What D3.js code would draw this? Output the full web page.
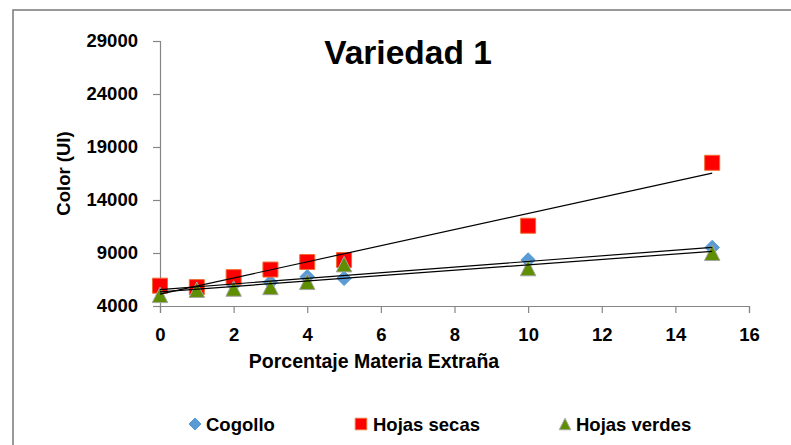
<!DOCTYPE html>
<html>
<head>
<meta charset="utf-8">
<script src="https://cdn.jsdelivr.net/npm/d3@7/dist/d3.min.js"></script>
<style>
  html, body { margin: 0; padding: 0; background: #ffffff; }
  svg { display: block; }
  text { font-family: "Liberation Sans", Arial, sans-serif; font-weight: bold; fill: #000; }
</style>
</head>
<body>
<svg id="chart" width="791" height="445"></svg>
<script>
// Porcentaje de materia extraña (%)
const porcentajes = [0, 1, 2, 3, 4, 5, 10, 15];

// Color (UI) por tipo de materia extraña
const cogollo      = [5700, 5850, 6000, 6230, 6760, 6610, 8340, 9520];
const hojasSecas   = [5915, 5780, 6720, 7440, 8150, 8340, 11570, 17510];
const hojasVerdes  = [5050, 5540, 5650, 5800, 6280, 7950, 7580, 9020];

const seriesNames  = ["Cogollo", "Hojas secas", "Hojas verdes"];
const xTicks = [0, 2, 4, 6, 8, 10, 12, 14, 16];
const yTicks = [4000, 9000, 14000, 19000, 24000, 29000];

const titulo = "Variedad 1";
const tituloX = "Porcentaje Materia Extraña";
const tituloY = "Color (UI)";

// marker shapes; "size" is the marker's full width in pixels
const diamond = { draw(ctx, s) { const r = s / 2; ctx.moveTo(0, -r); ctx.lineTo(r, 0); ctx.lineTo(0, r); ctx.lineTo(-r, 0); ctx.closePath(); } };
const square  = { draw(ctx, s) { const r = s / 2; ctx.rect(-r, -r, s, s); } };
const triangle = { draw(ctx, s) { const r = s / 2; ctx.moveTo(0, -r); ctx.lineTo(r, r); ctx.lineTo(-r, r); ctx.closePath(); } };

const series = [
  { name: seriesNames[0], values: cogollo,     symbol: diamond,  fill: "#5b9bd5", stroke: "#5b9bd5", size: 14.5, legendSize: 12 },
  { name: seriesNames[1], values: hojasSecas,  symbol: square,   fill: "#ff0000", stroke: "#f26b2f", size: 15,   legendSize: 11.5 },
  { name: seriesNames[2], values: hojasVerdes, symbol: triangle, fill: "#5f8f00", stroke: "#a6a6a6", size: 15.5, legendSize: 11.5 }
];

const svg = d3.select("#chart");

// chart frame
svg.append("rect")
  .attr("x", 13).attr("y", 10)
  .attr("width", 800).attr("height", 460)
  .attr("fill", "none").attr("stroke", "#808080").attr("stroke-width", 1.6);

const x = d3.scaleLinear().domain([0, 16]).range([160, 749]);
const y = d3.scaleLinear().domain([4000, 29000]).range([306, 41]);

const axisColor = "#868686";
const fontSize = "18.5px";

// Y axis
const gy = svg.append("g").attr("transform", `translate(${x(0)},0)`)
  .call(d3.axisLeft(y).tickValues(yTicks).tickSize(7).tickPadding(15).tickFormat(d3.format("d")));
gy.select(".domain").attr("stroke", axisColor).attr("stroke-width", 1.2);
gy.selectAll(".tick line").attr("stroke", axisColor).attr("stroke-width", 1.2);
gy.selectAll(".tick text").style("font-size", fontSize).attr("font-family", null);

// X axis
const gx = svg.append("g").attr("transform", `translate(0,${y(4000)})`)
  .call(d3.axisBottom(x).tickValues(xTicks).tickSize(7).tickPadding(15).tickFormat(d3.format("d")));
gx.select(".domain").attr("stroke", axisColor).attr("stroke-width", 1.2);
gx.selectAll(".tick line").attr("stroke", axisColor).attr("stroke-width", 1.2);
gx.selectAll(".tick text").style("font-size", fontSize).attr("font-family", null);

// titles
svg.append("text").attr("x", 408).attr("y", 63.5).attr("text-anchor", "middle")
  .style("font-size", "33.5px").text(titulo);
svg.append("text").attr("x", 374).attr("y", 367.5).attr("text-anchor", "middle")
  .style("font-size", "19.5px").text(tituloX);
svg.append("text").attr("transform", `translate(69.5,${(y(4000) + y(29000)) / 2}) rotate(-90)`)
  .attr("text-anchor", "middle").style("font-size", fontSize).text(tituloY);

// markers
series.forEach(s => {
  svg.append("g").selectAll("path")
    .data(porcentajes.map((p, i) => [p, s.values[i]]))
    .join("path")
    .attr("transform", d => `translate(${x(d[0])},${y(d[1])})`)
    .attr("d", d3.symbol().type(s.symbol).size(s.size))
    .attr("fill", s.fill).attr("stroke", s.stroke).attr("stroke-width", 1);
});

// least-squares linear trendlines
function fitLine(xs, ys) {
  const mx = d3.mean(xs), my = d3.mean(ys);
  let sxy = 0, sxx = 0;
  for (let i = 0; i < xs.length; i++) { sxy += (xs[i] - mx) * (ys[i] - my); sxx += (xs[i] - mx) ** 2; }
  const m = sxy / sxx;
  return { m, b: my - m * mx };
}
const [xmin, xmax] = d3.extent(porcentajes);
series.forEach(s => {
  const f = fitLine(porcentajes, s.values);
  svg.append("line")
    .attr("x1", x(xmin)).attr("y1", y(f.b + f.m * xmin))
    .attr("x2", x(xmax)).attr("y2", y(f.b + f.m * xmax))
    .attr("stroke", "#000").attr("stroke-width", 1.2);
});

// legend
const legendPos = [
  { mx: 195, tx: 206 },
  { mx: 361, tx: 373 },
  { mx: 565, tx: 576 }
];
const legendY = 424;
series.forEach((s, i) => {
  const lp = legendPos[i];
  svg.append("path")
    .attr("transform", `translate(${lp.mx},${legendY})`)
    .attr("d", d3.symbol().type(s.symbol).size(s.legendSize))
    .attr("fill", s.fill).attr("stroke", s.stroke).attr("stroke-width", 1);
  svg.append("text").attr("x", lp.tx).attr("y", 430.5)
    .style("font-size", fontSize).text(s.name);
});
</script>
</body>
</html>
